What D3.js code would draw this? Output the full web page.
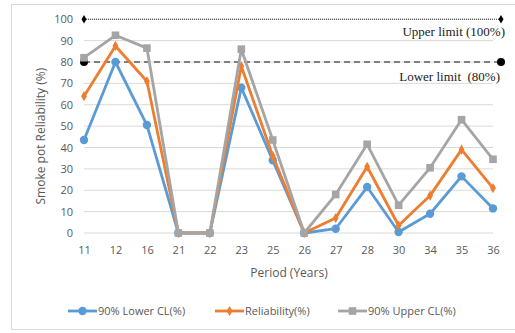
<!DOCTYPE html>
<html>
<head>
<meta charset="utf-8">
<script src="https://cdn.jsdelivr.net/npm/d3@7"></script>
<style>
  body { margin: 0; background: #fff; }
  text { font-family: "Open Sans", "Noto Sans", sans-serif; }
</style>
</head>
<body>
<svg id="chart" width="515" height="333"></svg>
<script>
// periods (years) on the x axis
const periods = ['11', '12', '16', '21', '22', '23', '25', '26', '27', '28', '30', '34', '35', '36'];
const lowerCL = [43.5, 80, 50.5, 0, 0, 68, 34, 0, 2, 21.5, 0.5, 9, 26.5, 11.5];
const reliability = [64, 87.5, 71, 0, 0, 78, 36, 0, 7, 31, 3.5, 17.5, 39, 21];
const upperCL = [82, 92.5, 86.5, 0, 0, 86, 43.5, 0, 18, 41.5, 13, 30.5, 53, 34.5];
const yTicks = [0, 10, 20, 30, 40, 50, 60, 70, 80, 90, 100];
const upperLimit = 100;
const lowerLimit = 80;

const series = [
  { name: '90% Lower CL(%)', values: lowerCL, color: '#5B9BD5', marker: 'circle' },
  { name: 'Reliability(%)', values: reliability, color: '#ED7D31', marker: 'diamond' },
  { name: '90% Upper CL(%)', values: upperCL, color: '#A5A5A5', marker: 'square' }
];

const svg = d3.select('#chart');

// outer chart border
svg.append('rect')
  .attr('x', 11.5).attr('y', 4.5).attr('width', 505).attr('height', 325)
  .attr('fill', 'none').attr('stroke', '#d9d9d9');

const plotLeft = 84, plotRight = 493, plotTop = 19.25, plotBottom = 233;

const x = d3.scalePoint().domain(periods).range([plotLeft, plotRight]);
const y = d3.scaleLinear().domain([0, 100]).range([plotBottom, plotTop]);

// gridlines
svg.append('g').selectAll('line').data(yTicks).join('line')
  .attr('x1', plotLeft).attr('x2', plotRight)
  .attr('y1', d => y(d)).attr('y2', d => y(d))
  .attr('stroke', '#d9d9d9').attr('stroke-width', 1);

// y axis labels
const yAxis = svg.append('g').attr('transform', `translate(${plotLeft - 11},0)`)
  .call(d3.axisLeft(y).tickValues(yTicks).tickSize(0).tickPadding(0));
yAxis.select('.domain').remove();
yAxis.selectAll('text').attr('fill', '#595959').style('font-size', '11px');

// x axis labels
const xAxis = svg.append('g').attr('transform', `translate(0,${plotBottom + 13})`)
  .call(d3.axisBottom(x).tickSize(0).tickPadding(0));
xAxis.select('.domain').remove();
xAxis.selectAll('text').attr('fill', '#595959').style('font-size', '11px');

// axis titles
svg.append('text')
  .attr('transform', `translate(45,${(plotTop + plotBottom) / 2 + 10}) rotate(-90)`)
  .attr('text-anchor', 'middle').attr('fill', '#595959').style('font-size', '12px')
  .text('Smoke pot Reliability (%)');
svg.append('text')
  .attr('x', 289).attr('y', 277)
  .attr('text-anchor', 'middle').attr('fill', '#595959').style('font-size', '12px')
  .text('Period (Years)');

// limit lines
const limitX2 = 501;
svg.append('line')
  .attr('x1', plotLeft).attr('x2', limitX2).attr('y1', y(upperLimit)).attr('y2', y(upperLimit))
  .attr('stroke', '#333').attr('stroke-width', 1).attr('stroke-dasharray', '1,1');
svg.append('line')
  .attr('x1', plotLeft).attr('x2', limitX2).attr('y1', y(lowerLimit)).attr('y2', y(lowerLimit))
  .attr('stroke', '#111').attr('stroke-width', 1).attr('stroke-dasharray', '6,4');
[plotLeft, limitX2].forEach(px => {
  svg.append('path')
    .attr('d', d3.symbol(d3.symbolDiamond, 22)())
    .attr('transform', `translate(${px},${y(upperLimit)})`).attr('fill', '#000');
  svg.append('circle')
    .attr('cx', px).attr('cy', y(lowerLimit)).attr('r', 4).attr('fill', '#000');
});
svg.append('text')
  .attr('x', 505).attr('y', 36).attr('text-anchor', 'end')
  .style('font-family', '"Liberation Serif", serif').style('font-size', '13px')
  .attr('fill', '#222').text('Upper limit (100%)');
svg.append('text')
  .attr('x', 500).attr('y', 81).attr('text-anchor', 'end')
  .style('font-family', '"Liberation Serif", serif').style('font-size', '13px')
  .style('white-space', 'pre')
  .attr('fill', '#222').text('Lower limit  (80%)');

function drawMarker(g, type, color, cx, cy) {
  if (type === 'circle') {
    g.append('circle').attr('cx', cx).attr('cy', cy).attr('r', 4.2).attr('fill', color);
  } else if (type === 'diamond') {
    g.append('path').attr('d', d3.symbol(d3.symbolDiamond, 30)())
      .attr('transform', `translate(${cx},${cy})`).attr('fill', color);
  } else {
    g.append('rect').attr('x', cx - 3.8).attr('y', cy - 3.8)
      .attr('width', 7.6).attr('height', 7.6).attr('fill', color);
  }
}

const line = d3.line().x((d, i) => x(periods[i])).y(d => y(d));

series.forEach(s => {
  const g = svg.append('g');
  g.append('path').datum(s.values)
    .attr('d', line).attr('fill', 'none')
    .attr('stroke', s.color).attr('stroke-width', 2.8).attr('stroke-linejoin', 'round');
  s.values.forEach((v, i) => drawMarker(g, s.marker, s.color, x(periods[i]), y(v)));
});

// legend
const legendX = [68, 215, 338];
series.forEach((s, i) => {
  const g = svg.append('g').attr('transform', `translate(${legendX[i]},311)`);
  g.append('line').attr('x1', 0).attr('x2', 29).attr('y1', 0).attr('y2', 0)
    .attr('stroke', s.color).attr('stroke-width', 2.8);
  drawMarker(g, s.marker, s.color, 14.5, 0);
  g.append('text').attr('x', 30).attr('y', 4).attr('fill', '#595959')
    .style('font-size', '11px').text(s.name);
});
</script>
</body>
</html>
